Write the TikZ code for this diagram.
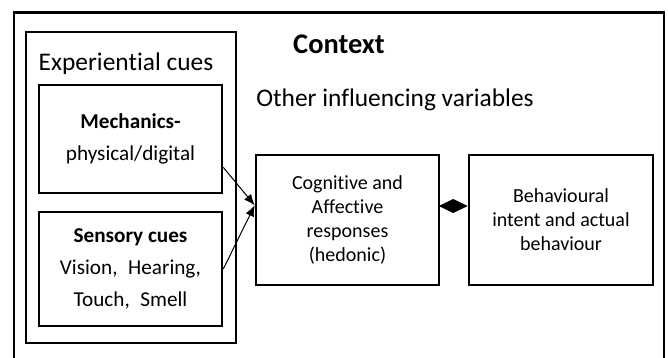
\documentclass[tikz,border=0pt]{standalone}
\usepackage{fontspec}
\setmainfont{Carlito}[Ligatures=CommonOff]
\usetikzlibrary{arrows.meta}

\begin{document}
\begin{tikzpicture}[x=0.5pt,y=-0.5pt,
    frame/.style={draw,line width=1.3pt,inner sep=0pt},
    cuebox/.style={frame,minimum width=91.5pt,align=center,
        font=\fontsize{10.6}{16}\selectfont},
    respbox/.style={frame,minimum width=91.5pt,minimum height=65pt,align=center,
        font=\fontsize{10}{12}\selectfont},
    head/.style={font=\fontsize{12.7}{15}\selectfont,inner sep=0pt},
    feed/.style={line width=0.5pt,-{Latex[length=5.5pt,width=4.5pt]}}]
\useasboundingbox (0,0) rectangle (668,358);
% context frame, cut off at the bottom
\draw[line width=1.3pt] (14,370) |- (664,12.5) -- (664,370);
\node[font=\fontsize{14.2}{16}\selectfont\bfseries,inner sep=0pt] (context) at (339,44) {Context};
\node[head] (other) at (395,100) {Other influencing variables};

\node[frame,minimum width=105pt,minimum height=155.5pt] (exp) at (131,187.5) {};
\node[head] (exptitle) at (126,64) {Experiential cues};
\node[cuebox,minimum height=54pt] (mech) at (130.5,139)
    {\textbf{Mechanics-}\\physical/digital};
\node[cuebox,minimum height=57pt] (sens) at (130.5,269)
    {\textbf{Sensory cues}\\Vision,\enspace Hearing,\\Touch,\enspace Smell};

\node[respbox] (cog) at (347.5,220) {Cognitive and\\Affective\\responses\\(hedonic)};
\node[respbox,minimum width=92pt] (beh) at (561,220) {Behavioural\\intent and actual\\behaviour};

\draw[feed] (mech.-17) -- (cog.171);
\draw[feed] (sens.east) -- (cog.171);
\draw[line width=0.5pt,-{Diamond[length=14.5pt,width=7pt]}]
    ([yshift=7pt]cog.east) -- ([yshift=7pt]beh.west);
\end{tikzpicture}
\end{document}
